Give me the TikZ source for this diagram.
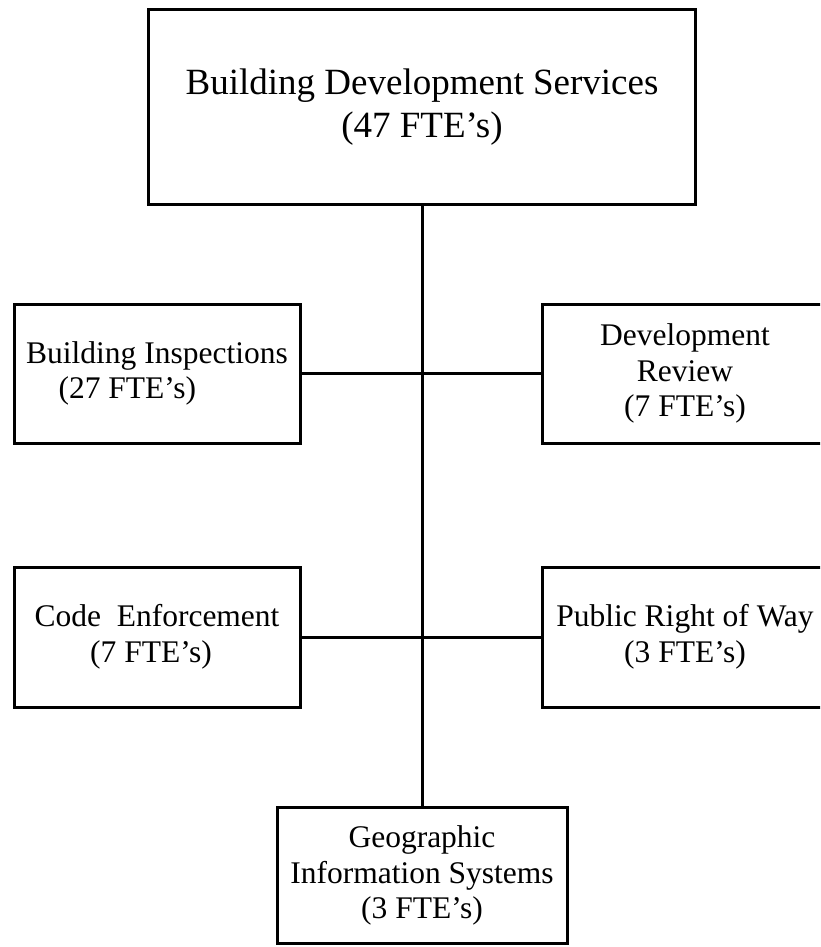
\documentclass[tikz,border=0pt]{standalone}
\usepackage{fontspec}
\setmainfont{Liberation Serif}
\begin{document}
\begin{tikzpicture}[x=1pt,y=-1pt,
  box/.style={draw=black, line width=3pt, rectangle, inner sep=0pt, align=center},
  big/.style={box, font=\fontsize{37}{43}\selectfont},
  small/.style={box, font=\fontsize{31.5}{35.5}\selectfont},
  link/.style={draw=black, line width=3pt}]
\useasboundingbox (0,0) rectangle (820,947);
\clip (0,0) rectangle (820,947);
\fill[white] (0,0) rectangle (820,947);
\node[big, minimum width=547pt, minimum height=195pt] (bds) at (422,107)
  {Building Development Services\\(47 FTE’s)};
\node[small, minimum width=286pt, minimum height=139pt, align=left] (bi) at (157,373.5)
  {Building Inspections\\\hspace*{1.03em}(27 FTE’s)};
\node[small, minimum width=286pt, minimum height=139pt] (dr) at (685,373.5)
  {Development\\Review\\(7 FTE’s)};
\node[small, minimum width=286pt, minimum height=140pt] (ce) at (157,637)
  {Code\ \ Enforcement\\(7 FTE’s)\hspace*{12pt}};
\node[small, minimum width=286pt, minimum height=140pt] (prw) at (685,637)
  {Public Right of Way\\(3 FTE’s)};
\node[small, minimum width=290pt, minimum height=136pt] (gis) at (422,875.5)
  {Geographic\\Information Systems\\(3 FTE’s)};
\draw[link] (bds.south) -- (gis.north);
\draw[link] (bi.east) -- (dr.west);
\draw[link] (ce.east) -- (prw.west);
\end{tikzpicture}
\end{document}
